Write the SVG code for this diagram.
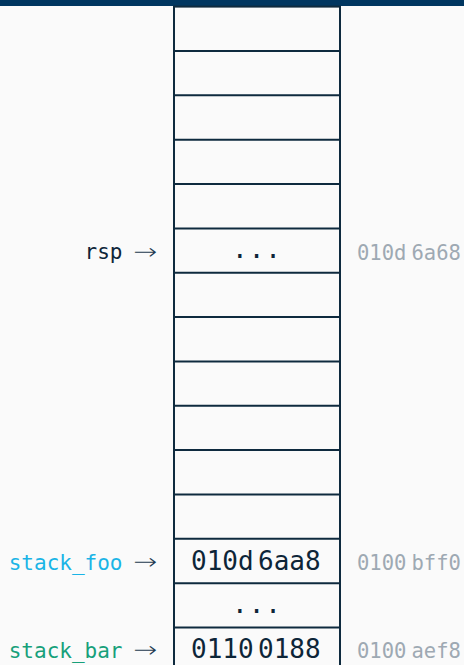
<svg xmlns="http://www.w3.org/2000/svg" width="464" height="665" viewBox="0 0 464 665">
<style>
.cell{fill:none;stroke:#0e2a3e;stroke-width:2}
.val{font-family:"DejaVu Sans Mono","Liberation Mono",monospace;font-size:26px;fill:#0d2538}
.addr{font-family:"DejaVu Sans Mono","Liberation Mono",monospace;font-size:20.5px;fill:#9ea9b3}
.lbl{font-family:"DejaVu Sans Mono","Liberation Mono",monospace;font-size:21px;text-anchor:end}
.arr{font-family:"DejaVu Sans","Noto Sans",sans-serif;font-size:22px;font-weight:200;fill:#1d3a50}
</style>
<rect x="0" y="0" width="464" height="665" fill="#fafafa"/>
<rect x="0" y="0" width="464" height="6" fill="#003660"/>
<g id="stack">
<rect class="cell" x="174" y="6.6" width="166" height="700"/>
</g>
<g id="rows">
<g id="row1"><line class="cell" x1="174" y1="51" x2="340" y2="51"/></g>
<g id="row2"><line class="cell" x1="174" y1="95.3" x2="340" y2="95.3"/></g>
<g id="row3"><line class="cell" x1="174" y1="139.7" x2="340" y2="139.7"/></g>
<g id="row4"><line class="cell" x1="174" y1="184" x2="340" y2="184"/></g>
<g id="row5"><line class="cell" x1="174" y1="228.4" x2="340" y2="228.4"/></g>
<g id="row6"><line class="cell" x1="174" y1="272.7" x2="340" y2="272.7"/></g>
<g id="row7"><line class="cell" x1="174" y1="317.1" x2="340" y2="317.1"/></g>
<g id="row8"><line class="cell" x1="174" y1="361.4" x2="340" y2="361.4"/></g>
<g id="row9"><line class="cell" x1="174" y1="405.8" x2="340" y2="405.8"/></g>
<g id="row10"><line class="cell" x1="174" y1="450.1" x2="340" y2="450.1"/></g>
<g id="row11"><line class="cell" x1="174" y1="494.5" x2="340" y2="494.5"/></g>
<g id="row12"><line class="cell" x1="174" y1="538.8" x2="340" y2="538.8"/></g>
<g id="row13"><line class="cell" x1="174" y1="583.2" x2="340" y2="583.2"/></g>
<g id="row14"><line class="cell" x1="174" y1="627.5" x2="340" y2="627.5"/></g>
</g>
<g id="cell-rsp">
<text class="val" x="257" y="257.5" text-anchor="middle" letter-spacing="1">...</text>
<text class="addr" x="357" y="259.5">010d</text>
<text class="addr" x="411.5" y="259.5">6a68</text>
</g>
<g id="cell-foo">
<text class="val" x="191" y="569.5">010d</text>
<text class="val" x="258" y="569.5">6aa8</text>
<text class="addr" x="357" y="569.5">0100</text>
<text class="addr" x="411.5" y="569.5">bff0</text>
</g>
<g id="cell-gap">
<text class="val" x="257" y="612.5" text-anchor="middle" letter-spacing="1">...</text>
</g>
<g id="cell-bar">
<text class="val" x="191" y="657.5">0110</text>
<text class="val" x="258" y="657.5">0188</text>
<text class="addr" x="357" y="657.5">0100</text>
<text class="addr" x="411.5" y="657.5">aef8</text>
</g>
<g id="labels">
<g id="label-rsp"><text class="lbl" x="122.5" y="259" fill="#0d2538">rsp</text><text class="arr" x="133.5" y="258.5" textLength="24" lengthAdjust="spacingAndGlyphs">→</text></g>
<g id="label-foo"><text class="lbl" x="122.5" y="569.5" fill="#1ab4e6">stack_foo</text><text class="arr" x="133.5" y="569" textLength="24" lengthAdjust="spacingAndGlyphs">→</text></g>
<g id="label-bar"><text class="lbl" x="122.5" y="657.5" fill="#17a07a">stack_bar</text><text class="arr" x="133.5" y="657" textLength="24" lengthAdjust="spacingAndGlyphs">→</text></g>
</g>
<g id="connectors"></g>
</svg>
